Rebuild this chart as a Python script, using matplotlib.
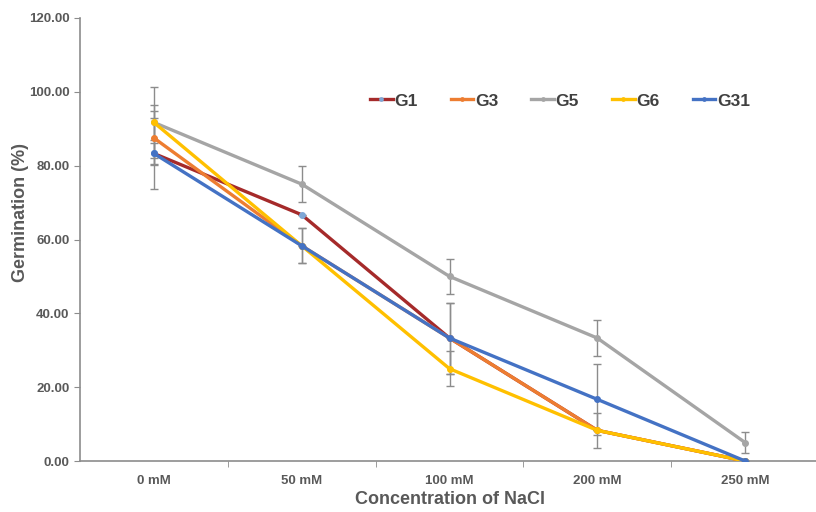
import matplotlib.pyplot as plt
import numpy as np

plt.rcParams['font.family'] = ['Liberation Sans', 'DejaVu Sans']
plt.rcParams['font.weight'] = 'bold'

# data
concentrations = ['0 mM', '50 mM', '100 mM', '200 mM', '250 mM']
genotypes = ['G1', 'G3', 'G5', 'G6', 'G31']
g1 = [83.3, 66.7, 33.3, 8.3, 0.0]
g3 = [87.5, 58.3, 33.3, 8.3, 0.0]
g5 = [91.7, 75.0, 50.0, 33.3, 5.0]
g6 = [91.7, 58.3, 25.0, 8.3, 0.0]
g31 = [83.3, 58.3, 33.3, 16.7, 0.0]
err_g1 = [9.6, 0.0, 9.6, 0.0, 0.0]
err_g3 = [7.2, 0.0, 0.0, 0.0, 0.0]
err_g5 = [9.6, 4.8, 4.8, 4.8, 2.9]
err_g6 = [4.8, 4.8, 4.8, 4.8, 0.0]
err_g31 = [2.9, 4.8, 9.6, 9.6, 0.0]

series = [g1, g3, g5, g6, g31]
errors = [err_g1, err_g3, err_g5, err_g6, err_g31]
colors = ['#A52A2A', '#ED7D31', '#A5A5A5', '#FFC000', '#4472C4']
marker_colors = ['#7FA7D6', '#ED7D31', '#A5A5A5', '#FFC000', '#4472C4']

fig = plt.figure(figsize=(8.16, 5.12), dpi=100)
ax = fig.add_axes([80 / 816, 1 - 461 / 512, 739 / 816, 443 / 512])

x = np.arange(len(concentrations))
handles = []
for vals, err, c, mc, name in zip(series, errors, colors, marker_colors, genotypes):
    ax.errorbar(x, vals, yerr=err, fmt='none', ecolor='#8C8C8C', elinewidth=1,
                capsize=3, capthick=1, zorder=2)
    h, = ax.plot(x, vals, color=c, linewidth=2.4, marker='o', markersize=4,
                 markerfacecolor=mc, markeredgecolor=mc, label=name, zorder=3)
    handles.append(h)

ax.set_xlim(-0.5, 4.5)
ax.set_ylim(0, 120)
ax.set_yticks(np.arange(0, 121, 20))
ax.set_yticklabels([f'{v:.2f}' for v in np.arange(0, 121, 20)])
ax.set_xticks(x)
ax.set_xticklabels(concentrations)
ax.set_xticks(np.arange(0.5, 4.0, 1.0), minor=True)
ax.tick_params(axis='x', which='major', length=0, pad=10)
ax.tick_params(axis='x', which='minor', length=4, color='#8C8C8C')
ax.tick_params(axis='y', length=4, color='#8C8C8C')
ax.tick_params(labelsize=9.5, labelcolor='#595959')
for lab in ax.get_xticklabels() + ax.get_yticklabels():
    lab.set_fontweight('bold')

for s in ['top', 'right']:
    ax.spines[s].set_visible(False)
for s in ['left', 'bottom']:
    ax.spines[s].set_color('#8C8C8C')
    ax.spines[s].set_linewidth(1.2)

ax.set_xlabel('Concentration of NaCl', fontsize=13, fontweight='bold', color='#595959')
ax.set_ylabel('Germination (%)', fontsize=13, fontweight='bold', color='#595959')
ax.xaxis.set_label_coords((450 - 80) / 739, (461 - 491) / 443)
ax.yaxis.set_label_coords((29 - 80) / 739, (461 - 212) / 443)

leg = fig.legend(handles=handles, loc='center', bbox_to_anchor=(560 / 816, 1 - 101 / 512),
                 ncol=5, frameon=False, fontsize=12.5, handlelength=1.3, handletextpad=0.1,
                 columnspacing=1.9, markerscale=0.6)
for t in leg.get_texts():
    t.set_color('#404040')
    t.set_fontweight('bold')

fig.savefig('out.png', dpi=100)
